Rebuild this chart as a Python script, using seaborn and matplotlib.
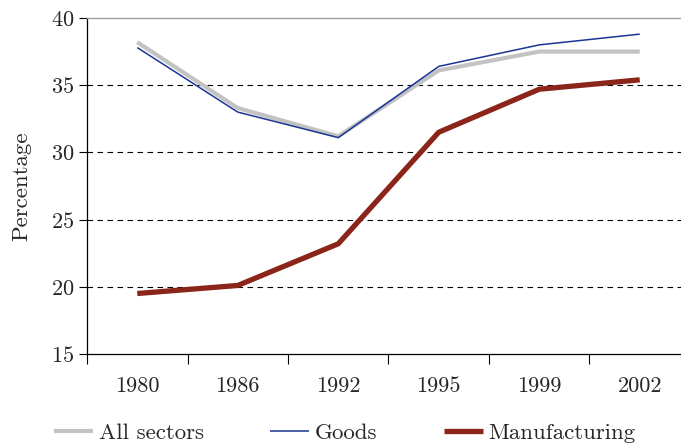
import pandas as pd
import matplotlib
matplotlib.use("Agg")
import matplotlib.pyplot as plt
import seaborn as sns

# Data
years = ['1980', '1986', '1992', '1995', '1999', '2002']
all_sectors = [38.2, 33.3, 31.2, 36.1, 37.5, 37.5]
goods = [37.8, 33.0, 31.1, 36.4, 38.0, 38.8]
manufacturing = [19.5, 20.1, 23.2, 31.5, 34.7, 35.4]

series_names = ['All sectors', 'Goods', 'Manufacturing']
series_colors = ['#c3c3c3', '#1a3594', '#8b2419']
series_widths = [3.0, 1.1, 3.8]

df = pd.DataFrame({
    'Year': years * 3,
    'Value': all_sectors + goods + manufacturing,
    'Series': [s for s in series_names for _ in years],
})

sns.set_style("white")
plt.rcParams['font.family'] = ['cmr10', 'DejaVu Serif']
plt.rcParams['axes.formatter.use_mathtext'] = True

W, H = 681, 445
fig = plt.figure(figsize=(W / 100, H / 100), dpi=100)
ax = fig.add_axes([87 / W, 1 - 354 / H, 603 / W, 336 / H])

for name, col, lw in zip(series_names, series_colors, series_widths):
    sub = df[df['Series'] == name]
    sns.lineplot(data=sub, x='Year', y='Value', color=col, linewidth=lw,
                 label=name, ax=ax, sort=False, solid_capstyle='butt')

ax.set_xlim(-0.5, 5.5)
ax.set_ylim(15, 40)
ax.set_yticks([15, 20, 25, 30, 35, 40])
ax.set_xlabel('')
ax.set_ylabel('Percentage', fontsize=16.5, labelpad=14)

# dashed gridlines
for yv in [20, 25, 30, 35]:
    ax.axhline(yv, color='black', linestyle=(0, (5, 4)), linewidth=0.8, zorder=0)

# category ticks between labels, Excel style
ax.set_xticks([i - 0.5 for i in range(len(years) + 1)], minor=True)
ax.tick_params(axis='x', which='major', length=0, pad=16, labelsize=16)
ax.tick_params(axis='x', which='minor', length=7, width=0.8, direction='out',
               bottom=True, color='black')
ax.tick_params(axis='y', length=6, width=0.8, direction='out', left=True,
               labelsize=16, color='black', pad=3)

for s in ['left', 'bottom']:
    ax.spines[s].set_color('black')
    ax.spines[s].set_linewidth(0.9)
ax.spines['top'].set_color('#a0a0a0')
ax.spines['top'].set_linewidth(1.0)
ax.spines['right'].set_visible(False)

handles, labels = ax.get_legend_handles_labels()
ax.get_legend().remove()
fig.legend(handles, labels, loc='center', bbox_to_anchor=(345 / W, 12 / H),
           ncol=3, frameon=False, fontsize=16.5, handlelength=1.7,
           handletextpad=0.25, columnspacing=2.9)

fig.savefig('out.png', dpi=100)
